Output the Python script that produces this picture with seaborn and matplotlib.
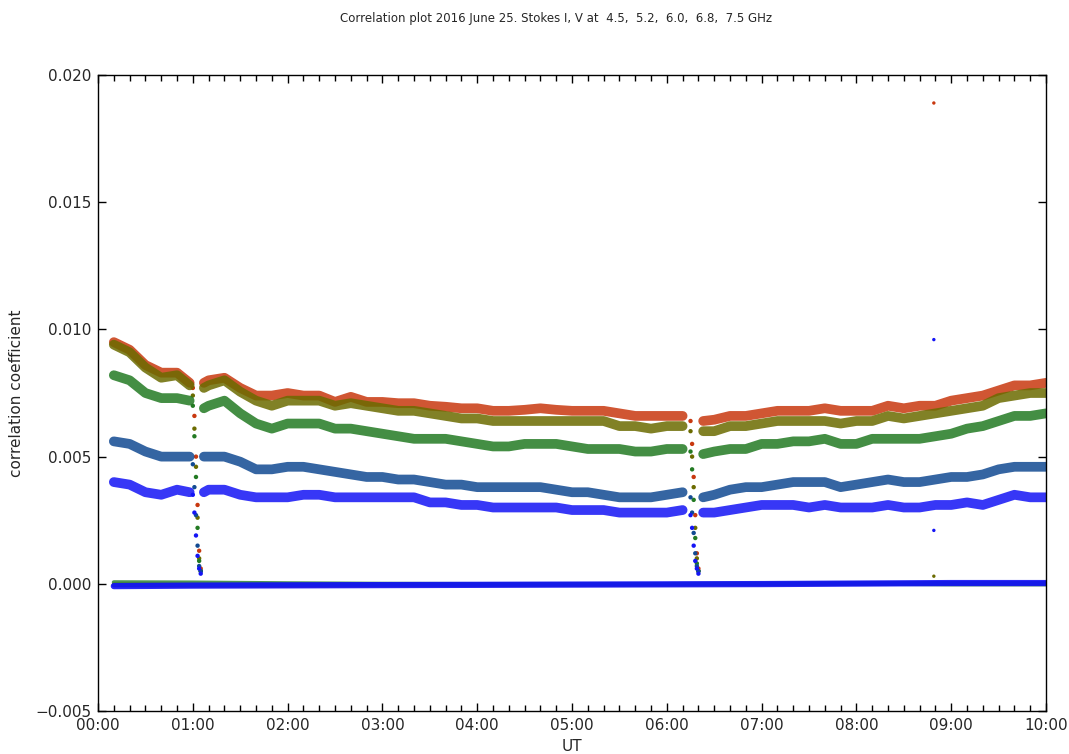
import numpy as np
import pandas as pd
import matplotlib
matplotlib.use("Agg")
import matplotlib.pyplot as plt
import seaborn as sns

# ---------------- data ----------------
title = "Correlation plot 2016 June 25. Stokes I, V at  4.5,  5.2,  6.0,  6.8,  7.5 GHz"
series_names = ["4.5 GHz", "5.2 GHz", "6.0 GHz", "6.8 GHz", "7.5 GHz"]

# UT in minutes after 00:00
t_min = [10, 20, 30, 40, 50, 58, 67, 70, 80, 90, 100, 110, 120, 130, 140, 150, 160,
         170, 180, 190, 200, 210, 220, 230, 240, 250, 260, 270, 280, 290, 300, 310,
         320, 330, 340, 350, 360, 370, 383, 390, 400, 410, 420, 430, 440, 450, 460,
         470, 480, 490, 500, 510, 520, 530, 540, 550, 560, 570, 580, 590, 600]
gap_starts = [60, 375]

stokes_i_red = [0.0095, 0.0092, 0.0086, 0.0083, 0.0083, 0.0079, 0.0079, 0.0080, 0.0081,
                0.0077, 0.0074, 0.0074, 0.0075, 0.0074, 0.0074, 0.00715, 0.00735, 0.00715,
                0.00715, 0.0071, 0.0071, 0.0070, 0.00696, 0.0069, 0.0069, 0.0068, 0.0068,
                0.00684, 0.0069, 0.00684, 0.0068, 0.0068, 0.0068, 0.0067, 0.0066, 0.0066,
                0.0066, 0.0066, 0.0064, 0.00645, 0.0066, 0.0066, 0.0067, 0.0068, 0.0068,
                0.0068, 0.0069, 0.0068, 0.0068, 0.0068, 0.0070, 0.0069, 0.0070, 0.0070,
                0.0072, 0.0073, 0.0074, 0.0076, 0.0078, 0.0078, 0.0079]
stokes_i_olive = [0.0094, 0.0091, 0.0085, 0.0081, 0.0082, 0.0078, 0.0077, 0.0078, 0.0080,
                  0.00755, 0.0072, 0.0070, 0.0072, 0.0072, 0.0072, 0.0070, 0.0071, 0.0070,
                  0.0069, 0.0068, 0.0068, 0.0067, 0.0066, 0.0065, 0.0065, 0.0064, 0.0064,
                  0.0064, 0.0064, 0.0064, 0.0064, 0.0064, 0.0064, 0.0062, 0.0062, 0.0061,
                  0.0062, 0.0062, 0.0060, 0.0060, 0.0062, 0.0062, 0.0063, 0.0064, 0.0064,
                  0.0064, 0.0064, 0.0063, 0.0064, 0.0064, 0.0066, 0.0065, 0.0066, 0.0067,
                  0.0068, 0.0069, 0.0070, 0.0073, 0.0074, 0.0075, 0.0075]
stokes_i_green = [0.0082, 0.0080, 0.0075, 0.0073, 0.0073, 0.0072, 0.0069, 0.0070, 0.0072,
                  0.0067, 0.0063, 0.0061, 0.0063, 0.0063, 0.0063, 0.0061, 0.0061, 0.0060,
                  0.0059, 0.0058, 0.0057, 0.0057, 0.0057, 0.0056, 0.0055, 0.0054, 0.0054,
                  0.0055, 0.0055, 0.0055, 0.0054, 0.0053, 0.0053, 0.0053, 0.0052, 0.0052,
                  0.0053, 0.0053, 0.0051, 0.0052, 0.0053, 0.0053, 0.0055, 0.0055, 0.0056,
                  0.0056, 0.0057, 0.0055, 0.0055, 0.0057, 0.0057, 0.0057, 0.0057, 0.0058,
                  0.0059, 0.0061, 0.0062, 0.0064, 0.0066, 0.0066, 0.0067]
stokes_i_darkblue = [0.0056, 0.0055, 0.0052, 0.0050, 0.0050, 0.0050, 0.0050, 0.0050, 0.0050,
                     0.0048, 0.0045, 0.0045, 0.0046, 0.0046, 0.0045, 0.0044, 0.0043, 0.0042,
                     0.0042, 0.0041, 0.0041, 0.0040, 0.0039, 0.0039, 0.0038, 0.0038, 0.0038,
                     0.0038, 0.0038, 0.0037, 0.0036, 0.0036, 0.0035, 0.0034, 0.0034, 0.0034,
                     0.0035, 0.0036, 0.0034, 0.0035, 0.0037, 0.0038, 0.0038, 0.0039, 0.0040,
                     0.0040, 0.0040, 0.0038, 0.0039, 0.0040, 0.0041, 0.0040, 0.0040, 0.0041,
                     0.0042, 0.0042, 0.0043, 0.0045, 0.0046, 0.0046, 0.0046]
stokes_i_blue = [0.0040, 0.0039, 0.0036, 0.0035, 0.0037, 0.0036, 0.0036, 0.0037, 0.0037,
                 0.0035, 0.0034, 0.0034, 0.0034, 0.0035, 0.0035, 0.0034, 0.0034, 0.0034,
                 0.0034, 0.0034, 0.0034, 0.0032, 0.0032, 0.0031, 0.0031, 0.0030, 0.0030,
                 0.0030, 0.0030, 0.0030, 0.0029, 0.0029, 0.0029, 0.0028, 0.0028, 0.0028,
                 0.0028, 0.0029, 0.0028, 0.0028, 0.0029, 0.0030, 0.0031, 0.0031, 0.0031,
                 0.0030, 0.0031, 0.0030, 0.0030, 0.0030, 0.0031, 0.0030, 0.0030, 0.0031,
                 0.0031, 0.0032, 0.0031, 0.0033, 0.0035, 0.0034, 0.0034]

# Stokes V (near zero)
t_v = [10, 60, 120, 180, 240, 300, 360, 420, 480, 540, 600]
stokes_v_red = [-0.00005, -0.00008, -0.00008, -0.00006, -0.00005, -0.00004, -0.00003, -0.00002, 0.0, 0.00002, 0.00002]
stokes_v_olive = [-0.00003, -0.00004, -0.00004, -0.00003, -0.00003, -0.00002, -0.00001, 0.0, 0.00001, 0.00002, 0.00002]
stokes_v_green = [0.00006, 0.00005, 0.00002, 0.0, -0.00001, -0.00001, -0.00001, 0.0, 0.00001, -0.00002, -0.00002]
stokes_v_darkblue = [-0.00006, -0.00005, -0.00004, -0.00003, -0.00003, -0.00002, -0.00001, 0.0, 0.00002, 0.00003, 0.00003]
stokes_v_blue = [-0.00009, -0.00007, -0.00006, -0.00005, -0.00004, -0.00003, -0.00002, -0.00001, 0.00001, 0.00003, 0.00003]

# drop-out samples at the two interruptions
drop_t = [60, 61, 62, 63, 64, 65, 375, 376, 377, 378, 379, 380]
drop_red = [0.0077, 0.0066, 0.0050, 0.0031, 0.0013, 0.0006, 0.0064, 0.0055, 0.0042, 0.0027, 0.0012, 0.0006]
drop_olive = [0.0074, 0.0061, 0.0046, 0.0026, 0.0010, 0.0005, 0.0060, 0.0050, 0.0038, 0.0022, 0.0010, 0.0005]
drop_green = [0.0070, 0.0058, 0.0042, 0.0022, 0.0009, 0.0005, 0.0052, 0.0045, 0.0033, 0.0018, 0.0008, 0.0005]
drop_darkblue = [0.0047, 0.0038, 0.0027, 0.0015, 0.0007, 0.0005, 0.0034, 0.0028, 0.0020, 0.0012, 0.0007, 0.0005]
drop_blue = [0.0035, 0.0028, 0.0019, 0.0011, 0.0006, 0.0004, 0.0027, 0.0022, 0.0015, 0.0009, 0.0006, 0.0004]

# isolated outliers near 08:49
outlier_t = [529, 529, 529, 529]
outlier_v = [0.0189, 0.0096, 0.0021, 0.0003]
outlier_series = ["4.5 GHz", "7.5 GHz", "7.5 GHz", "5.2 GHz"]

x_tick_labels = ["00:00", "01:00", "02:00", "03:00", "04:00", "05:00",
                 "06:00", "07:00", "08:00", "09:00", "10:00"]
y_ticks = [-0.005, 0.0, 0.005, 0.010, 0.015, 0.020]
y_tick_labels = ["\u22120.005", "0.000", "0.005", "0.010", "0.015", "0.020"]

colors = ["#c8380f", "#6b6b00", "#237a23", "#124a92", "#1414f5"]
palette = dict(zip(series_names, colors))

# ---------------- build tables ----------------
i_values = [stokes_i_red, stokes_i_olive, stokes_i_green, stokes_i_darkblue, stokes_i_blue]
v_values = [stokes_v_red, stokes_v_olive, stokes_v_green, stokes_v_darkblue, stokes_v_blue]
d_values = [drop_red, drop_olive, drop_green, drop_darkblue, drop_blue]

df_i = pd.concat([pd.DataFrame({"t": t_min, "v": vals, "series": name,
                                "segment": np.searchsorted(gap_starts, t_min)})
                  for name, vals in zip(series_names, i_values)], ignore_index=True)
df_v = pd.concat([pd.DataFrame({"t": t_v, "v": vals, "series": name})
                  for name, vals in zip(series_names, v_values)], ignore_index=True)
df_d = pd.concat([pd.DataFrame({"t": drop_t, "v": vals, "series": name})
                  for name, vals in zip(series_names, d_values)], ignore_index=True)
df_o = pd.DataFrame({"t": outlier_t, "v": outlier_v, "series": outlier_series})

# ---------------- plot ----------------
sns.set_style("ticks")
plt.rcParams["font.family"] = ["DejaVu Sans"]

fig = plt.figure(figsize=(10.69, 7.54), dpi=100)
ax = fig.add_axes([0.0917, 0.057, 0.8868, 0.8435])

# Stokes V near zero
sns.lineplot(data=df_v[df_v.series != "7.5 GHz"], x="t", y="v", hue="series",
             hue_order=series_names, palette=palette, lw=3.0, alpha=0.8,
             legend=False, ax=ax)
sns.lineplot(data=df_v[df_v.series == "7.5 GHz"], x="t", y="v", color=palette["7.5 GHz"],
             lw=4.5, alpha=0.9, legend=False, ax=ax)

# drop-outs at the interruptions
sns.scatterplot(data=df_d, x="t", y="v", hue="series", hue_order=series_names,
                palette=palette, s=10, linewidth=0, legend=False, ax=ax)

# Stokes I bands
sns.lineplot(data=df_i, x="t", y="v", hue="series", units="segment", estimator=None,
             hue_order=series_names, palette=palette, lw=7, alpha=0.85,
             legend=False, ax=ax)

sns.scatterplot(data=df_o, x="t", y="v", hue="series", hue_order=series_names,
                palette=palette, s=6, linewidth=0, legend=False, ax=ax)

ax.set_xlim(0, 600)
ax.set_ylim(-0.005, 0.020)
ax.set_xticks(np.arange(len(x_tick_labels)) * 60)
ax.set_xticklabels(x_tick_labels)
ax.set_xticks(np.arange(0, 601, 10), minor=True)
ax.set_yticks(y_ticks)
ax.set_yticklabels(y_tick_labels)
ax.tick_params(which="both", direction="in", top=True, right=True, labelsize=11,
               color="black", width=1)
ax.tick_params(which="major", length=6, pad=5)
ax.tick_params(which="minor", length=4)
for sp in ax.spines.values():
    sp.set_color("black")
    sp.set_linewidth(1)

ax.set_xlabel("UT", fontsize=11, labelpad=4)
ax.set_ylabel("correlation coefficient", fontsize=11, labelpad=8)
fig.text(0.52, 0.976, title, ha="center", va="center", fontsize=8.5)

fig.savefig("out.png", dpi=100)
